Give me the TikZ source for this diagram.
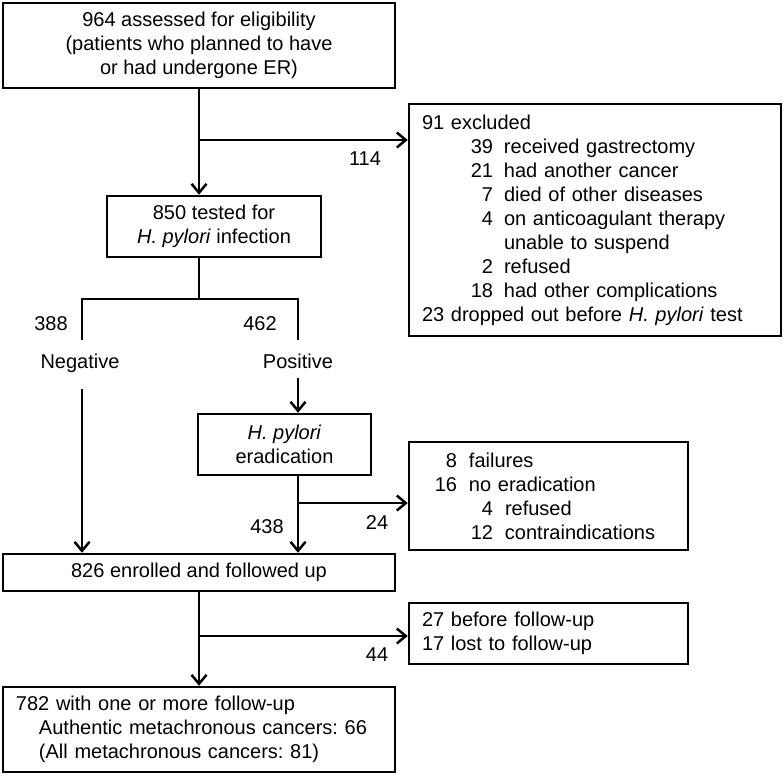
\documentclass[tikz,border=0pt]{standalone}
\usepackage{fontspec}
\setmainfont{Liberation Sans}
\usetikzlibrary{arrows.meta}
\newcommand\myfs{\fontsize{20}{24}\selectfont\frenchspacing}
\newcommand\exind[1]{\makebox[71pt][r]{#1}\hspace{11pt}}
\newcommand\faind[1]{\makebox[35pt][r]{#1}\hspace{12pt}}
\begin{document}
\begin{tikzpicture}[x=1pt,y=-1pt,
  box/.style={draw, line width=2.5pt, inner sep=0pt, font=\myfs},
  lbox/.style={box, align=left, inner xsep=13pt},
  lbl/.style={inner sep=0pt, font=\myfs},
  wlbl/.style={lbl, text height=14pt, text depth=4pt},
  conn/.style={line width=2.5pt},
  arr/.style={conn, -{Straight Barb[length=9pt,width=15pt]}}]
\useasboundingbox (0,0) rectangle (784,776);

% boxes
\node[box, minimum width=392pt, minimum height=85pt, align=center] (assess) at (199,45.5)
  {964 assessed for eligibility\\(patients who planned to have\\or had undergone ER)};
\node[box, minimum width=214pt, minimum height=61pt, align=center] (tested) at (214,226.5)
  {850 tested for\\\textit{H. pylori} infection};
\node[lbox, minimum width=372pt, minimum height=232pt, text width=346pt] (excl) at (595,220)
  {91 excluded\\
   \exind{39}received gastrectomy\\
   \exind{21}had another cancer\\
   \exind{7}died of other diseases\\
   \exind{4}on anticoagulant therapy\\
   \hspace*{82pt}unable to suspend\\
   \exind{2}refused\\
   \exind{18}had other complications\\
   23 dropped out before \textit{H. pylori} test};
\node[box, minimum width=173pt, minimum height=61pt, align=center] (erad) at (284.5,444.5)
  {\textit{H. pylori}\\eradication};
\node[lbox, minimum width=279pt, minimum height=108pt, text width=253pt] (fail) at (548.5,496)
  {\faind{8}failures\\
   \faind{16}no eradication\\
   \hspace*{36pt}\faind{4}refused\\
   \hspace*{36pt}\faind{12}contraindications};
\node[box, minimum width=392pt, minimum height=37pt] (enrolled) at (199,572.5)
  {826 enrolled and followed up};
\node[lbox, minimum width=279pt, minimum height=61pt, text width=253pt] (lost) at (548.5,633.5)
  {27 before follow-up\\17 lost to follow-up};
\node[lbox, minimum width=392pt, minimum height=85pt, text width=366pt] (final) at (199,729.5)
  {782 with one or more follow-up\\
   \hspace*{23pt}Authentic metachronous cancers: 66\\
   \hspace*{23pt}(All metachronous cancers: 81)};

% branch labels
\node[wlbl] (neg) at (80,363.5) {Negative};
\node[wlbl] (pos) at (298,363.5) {Positive};
\node[lbl] (n114) at (365,159) {114};
\node[lbl] (n388) at (51,324) {388};
\node[lbl] (n462) at (260,324) {462};
\node[lbl] (n24) at (377,523) {24};
\node[lbl] (n438) at (267,527) {438};
\node[lbl] (n44) at (377,655) {44};

% connectors
\draw[arr] (assess.south) -- (assess.south |- tested.north);
\coordinate (b1) at (199,140);
\draw[arr] (b1) -- (b1 -| excl.west);

\coordinate (sp) at (199,299);
\coordinate (sl) at (82,299);
\coordinate (sr) at (298,299);
\draw[conn] (sp |- tested.south) -- (sp);
\draw[conn, line cap=rect] (sl) -- (sr);
\draw[conn, shorten >=14.5pt] (sl) -- (sl |- neg.north);
\draw[conn, shorten >=14.5pt] (sr) -- (sr |- pos.north);
\draw[arr, shorten <=16.5pt] (sl |- neg.south) -- (sl |- enrolled.north);
\draw[arr, shorten <=5.5pt] (sr |- pos.south) -- (sr |- erad.north);
\draw[arr] (sr |- erad.south) -- (sr |- enrolled.north);
\coordinate (b2) at (298,503);
\draw[arr] (b2) -- (b2 -| fail.west);

\draw[arr] (enrolled.south) -- (enrolled.south |- final.north);
\coordinate (b3) at (199,636);
\draw[arr] (b3) -- (b3 -| lost.west);
\end{tikzpicture}
\end{document}
